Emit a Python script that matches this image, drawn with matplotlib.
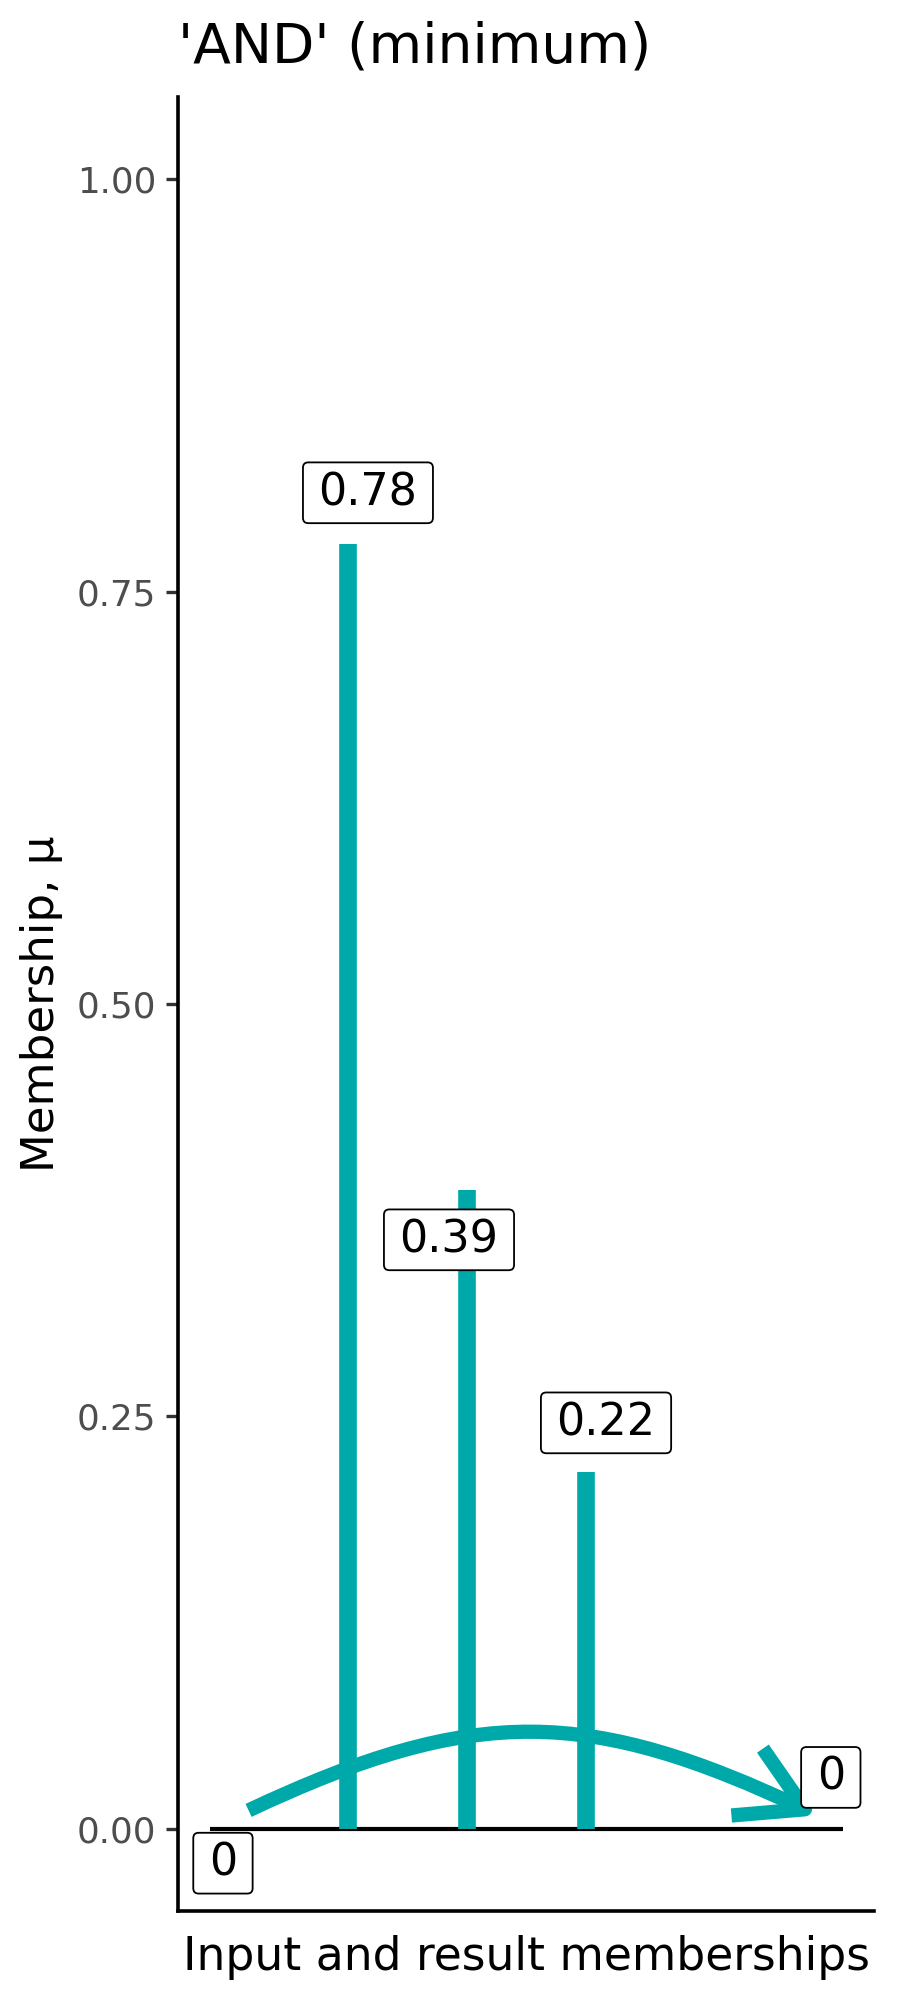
import matplotlib
matplotlib.use("Agg")
import matplotlib.pyplot as plt
from matplotlib.patches import BoxStyle, FancyArrowPatch
from matplotlib.path import Path

# memberships
bar_x = [0.219, 0.407, 0.595]
bar_mu = [0.779, 0.387, 0.216]

label_x = [0.021, 0.250, 0.378, 0.626, 0.981]
label_y = [-0.021, 0.810, 0.357, 0.246, 0.031]
label_text = ["0", "0.78", "0.39", "0.22", "0"]

baseline_x = [0.0, 1.0]
baseline_y = [0.0, 0.0]

arrow_start = (0.0615, 0.011)
arrow_end = (0.9606, 0.008)
curve_lift = 0.065   # height of the bezier handles (data units)
curve_inset = 0.40   # handle length as share of the chord

y_ticks = [0.0, 0.25, 0.50, 0.75, 1.00]

teal = "#00A9A9"


def label_box(x0, y0, width, height, mutation_size):
    # wider than tall padding, like ggrepel labels
    padx = 0.35 * mutation_size
    pady = 0.2 * mutation_size
    return BoxStyle.Round(pad=0, rounding_size=0.12)(
        x0 - padx, y0 - pady, width + 2 * padx, height + 2 * pady, mutation_size)


fig = plt.figure(figsize=(9, 20), dpi=100)
ax = fig.add_axes([178 / 900, 1 - 1911 / 2000, (874.5 - 178) / 900, (1911 - 97) / 2000])

ax.plot(baseline_x, baseline_y, color="black", linewidth=3.0, solid_capstyle="butt", zorder=2)
ax.vlines(bar_x, 0, bar_mu, colors=teal, linewidth=12.7, capstyle="butt", zorder=3)

# curved arrow from the first point to the result
(x0, y0), (x1, y1) = arrow_start, arrow_end
chord = x1 - x0
curve = Path([(x0, y0),
              (x0 + curve_inset * chord, y0 + curve_lift),
              (x1 - curve_inset * chord, y1 + curve_lift),
              (x1, y1)],
             [Path.MOVETO, Path.CURVE4, Path.CURVE4, Path.CURVE4])
arrow = FancyArrowPatch(path=curve,
                        arrowstyle="->,head_length=46,head_width=26.6",
                        mutation_scale=1, color=teal, linewidth=10.3,
                        capstyle="butt", joinstyle="round", zorder=4)
ax.add_patch(arrow)

for x, y, t in zip(label_x, label_y, label_text):
    ax.text(x, y, t, fontsize=32, ha="center", va="center", zorder=5,
            bbox=dict(boxstyle=label_box, facecolor="white", edgecolor="black", linewidth=1.3))

ax.set_xlim(-0.05, 1.05)
ax.set_ylim(-0.05, 1.05)
ax.set_yticks(y_ticks)
ax.set_yticklabels([f"{v:.2f}" for v in y_ticks])
ax.tick_params(axis="y", length=8.6, width=2.4, color="#333333", labelsize=25.7,
               labelcolor="#4D4D4D", pad=7)
ax.tick_params(axis="x", bottom=False, labelbottom=False)

for side in ["top", "right"]:
    ax.spines[side].set_visible(False)
for side in ["left", "bottom"]:
    ax.spines[side].set_linewidth(2.6)
    ax.spines[side].set_color("black")

ax.set_xlabel("Input and result memberships", fontsize=32.9, labelpad=17)
ax.set_ylabel("Membership, μ", fontsize=32.5, labelpad=10)
ax.set_title("'AND' (minimum)", fontsize=39.7, loc="left", pad=24.5)

fig.savefig("out.png", dpi=100)
